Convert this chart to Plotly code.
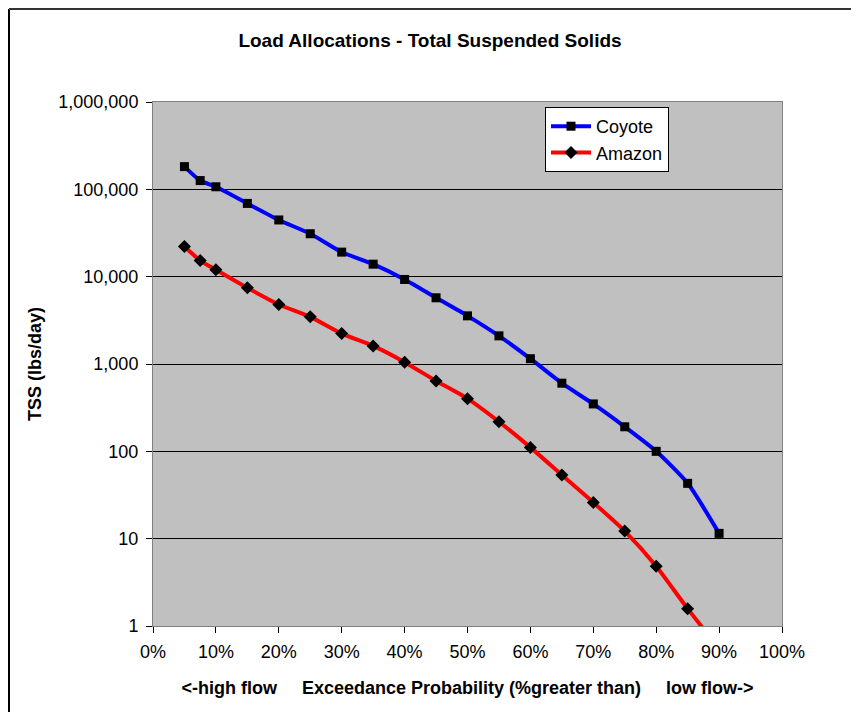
import plotly.graph_objects as go

# ---- data ----
exceedance_pct = [5, 7.5, 10, 15, 20, 25, 30, 35, 40, 45, 50, 55, 60, 65, 70, 75, 80, 85, 90]
coyote_tss = [182000, 126000, 107000, 69000, 44600, 31000, 19100, 13900, 9290, 5730,
              3560, 2100, 1150, 603, 349, 191, 100, 43, 11.5]
amazon_tss = [22200, 15300, 12000, 7460, 4800, 3470, 2230, 1610, 1050, 640,
              401, 218, 111, 53.5, 26, 12.2, 4.84, 1.58, 0.55]

y_tickvals = [1, 10, 100, 1000, 10000, 100000, 1000000]
y_ticktext = ["1", "10", "100", "1,000", "10,000", "100,000", "1,000,000"]
x_tickvals = [0, 10, 20, 30, 40, 50, 60, 70, 80, 90, 100]
x_ticktext = [f"{v}%" for v in x_tickvals]

FONT = "Liberation Sans, Arial, sans-serif"

# figure-pixel layout (page adds an 8px body margin)
L, R, T, B = 145, 85, 94, 94
W, H = 859, 712
PW, PH = W - L - R, H - T - B

def px_x(fx):
    return (fx - L) / PW

def px_y(fy):
    return (H - B - fy) / PH

fig = go.Figure()
fig.add_trace(go.Scatter(
    x=exceedance_pct, y=coyote_tss, name="Coyote", mode="lines+markers",
    line=dict(color="#0000FF", width=4, shape="spline", smoothing=0.6),
    marker=dict(symbol="square", size=9, color="black"),
))
fig.add_trace(go.Scatter(
    x=exceedance_pct, y=amazon_tss, name="Amazon", mode="lines+markers",
    line=dict(color="#FF0000", width=4, shape="spline", smoothing=0.6),
    marker=dict(symbol="diamond", size=10, color="black"),
))

sp = "\u00a0" * 5
fig.update_layout(
    width=W, height=H,
    margin=dict(l=L, r=R, t=T, b=B),
    paper_bgcolor="white", plot_bgcolor="#C0C0C0",
    font=dict(family=FONT, size=18, color="black"),
    title=dict(text="<b>Load Allocations - Total Suspended Solids</b>",
               xref="container", x=(430 - 8) / W, xanchor="center",
               yref="container", y=1 - 32 / H, yanchor="middle",
               font=dict(family=FONT, size=19, color="black")),
    showlegend=True,
    legend=dict(x=px_x(545 - 8), xanchor="left",
                y=px_y(172 - 8), yanchor="bottom",
                bgcolor="white", bordercolor="black", borderwidth=1,
                font=dict(family=FONT, size=18, color="black"),
                tracegroupgap=0, itemwidth=40),
    xaxis=dict(range=[0, 100], tickvals=x_tickvals, ticktext=x_ticktext,
               showgrid=False, zeroline=False,
               showline=True, linecolor="#808080", linewidth=1, mirror=True,
               ticks="outside", ticklen=6, tickcolor="black",
               ticklabelstandoff=3,
               tickfont=dict(family=FONT, size=18),
               title=dict(text="<b>&lt;-high flow" + sp + "Exceedance Probability (%greater than)" + sp + "low flow-&gt;</b>",
                          font=dict(family=FONT, size=18), standoff=20)),
    yaxis=dict(type="log", range=[0, 6], tickvals=y_tickvals, ticktext=y_ticktext,
               showgrid=True, gridcolor="black", gridwidth=1,
               zeroline=False,
               showline=True, linecolor="#808080", linewidth=1, mirror=True,
               ticks="outside", ticklen=6, tickcolor="black",
               ticklabelstandoff=4,
               tickfont=dict(family=FONT, size=18),
               title=dict(text="<b>TSS (lbs/day)</b>", font=dict(family=FONT, size=18), standoff=12)),
    shapes=[
        dict(type="line", xref="paper", yref="paper",
             x0=px_x(1), x1=px_x(1), y0=px_y(H + 20), y1=px_y(1),
             line=dict(color="black", width=2)),
        dict(type="line", xref="paper", yref="paper",
             x0=px_x(1), x1=px_x(W + 20), y0=px_y(1), y1=px_y(1),
             line=dict(color="#333333", width=2)),
    ],
)

fig.write_html("out.html")
